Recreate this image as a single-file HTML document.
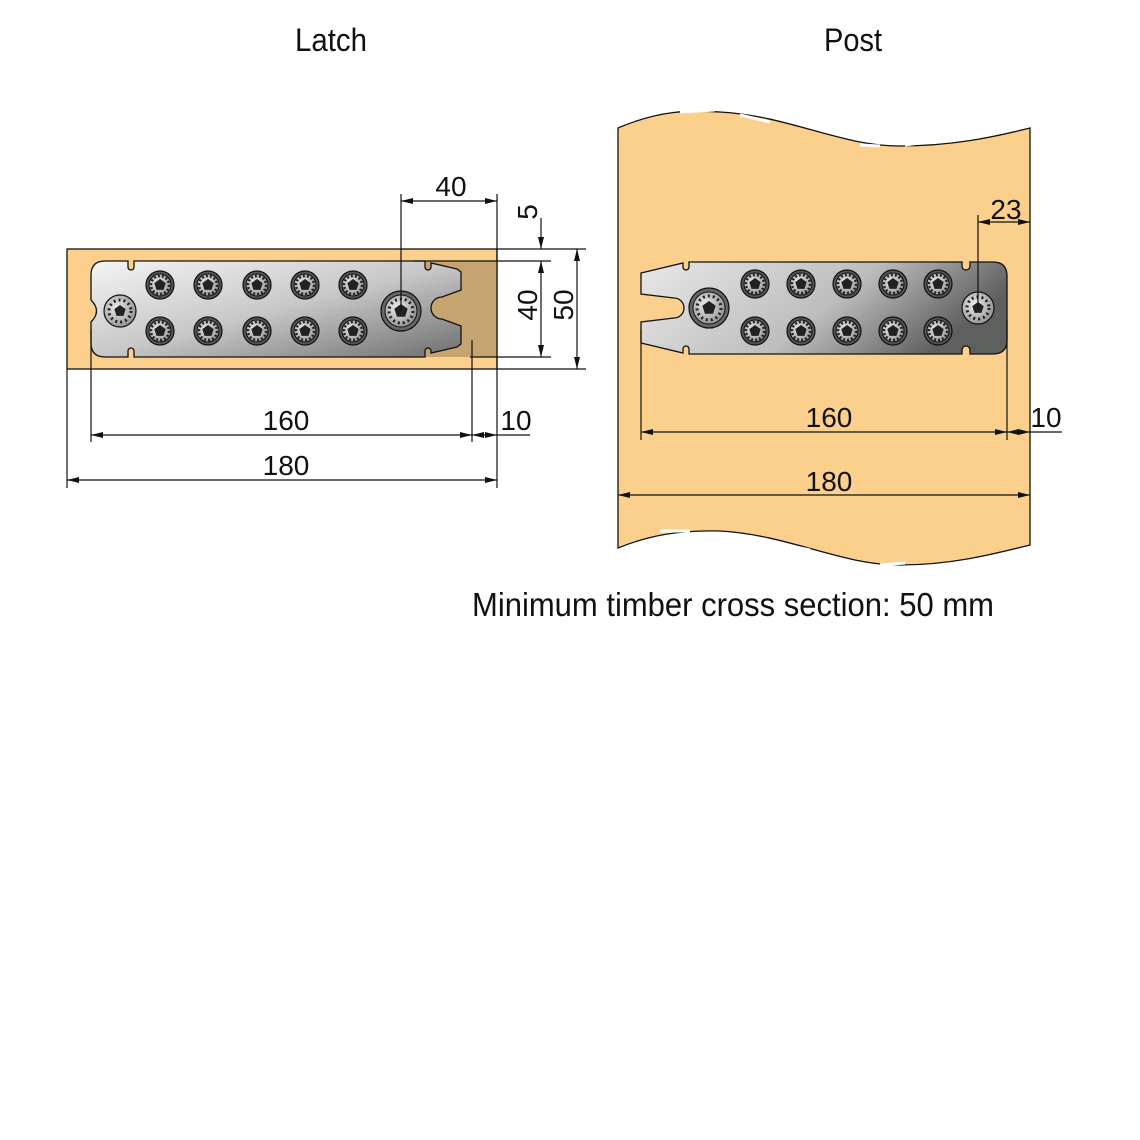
<!DOCTYPE html>
<html><head><meta charset="utf-8"><style>
body{margin:0;background:#fff}
svg{display:block}
text{font-family:"Liberation Sans Narrow","Liberation Sans",sans-serif;fill:#111}
</style></head><body>
<svg width="1140" height="1140" viewBox="0 0 1140 1140" xmlns="http://www.w3.org/2000/svg">
<defs>
<linearGradient id="pg" x1="0" y1="0" x2="1" y2="1">
<stop offset="0" stop-color="#f4f4f4"/><stop offset="0.5" stop-color="#c8c8c8"/><stop offset="1" stop-color="#6e6e6e"/></linearGradient>
<linearGradient id="pg2" x1="0" y1="0" x2="1" y2="0.3">
<stop offset="0" stop-color="#e8e8e8"/><stop offset="0.6" stop-color="#bdbdbd"/><stop offset="1" stop-color="#5e605e"/></linearGradient>
<radialGradient id="sg" cx="0.4" cy="0.4" r="0.7"><stop offset="0" stop-color="#eee"/><stop offset="1" stop-color="#888"/></radialGradient>
<g id="s">
<circle r="14" fill="#555" stroke="#111" stroke-width="1.2"/>
<circle r="11" fill="url(#sg)" stroke="#111" stroke-width="1"/>
<circle r="9" fill="none" stroke="#222" stroke-width="2.5" stroke-dasharray="2 2"/>
<polygon points="0,-6 5.7,-1.9 3.5,4.9 -3.5,4.9 -5.7,-1.9" fill="#222"/>
</g>
<g id="b">
<circle r="20" fill="#666" stroke="#111" stroke-width="1.2"/>
<circle r="16" fill="url(#sg)" stroke="#111" stroke-width="1"/>
<circle r="12" fill="none" stroke="#222" stroke-width="3" stroke-dasharray="2 3"/>
<polygon points="0,-7 6.7,-2.2 4.1,5.7 -4.1,5.7 -6.7,-2.2" fill="#222"/>
</g>
<g id="m">
<circle r="16" fill="url(#sg)" stroke="#111" stroke-width="1.2"/>
<circle r="11" fill="none" stroke="#222" stroke-width="3" stroke-dasharray="2 3"/>
<polygon points="0,-6 5.7,-1.9 3.5,4.9 -3.5,4.9 -5.7,-1.9" fill="#222"/>
</g>
<marker id="a" viewBox="0 0 12 6" refX="12" refY="3" markerWidth="12" markerHeight="6" orient="auto-start-reverse" markerUnits="userSpaceOnUse"><path d="M0,0 L12,3 L0,6z" fill="#111"/></marker>
</defs>

<text x="331" y="51" font-size="32" text-anchor="middle" textLength="72" lengthAdjust="spacingAndGlyphs">Latch</text>
<text x="853" y="51" font-size="32" text-anchor="middle" textLength="58" lengthAdjust="spacingAndGlyphs">Post</text>

<!-- Latch timber -->
<rect x="67" y="249" width="430" height="120" fill="#fbd08d" stroke="#111" stroke-width="1.3"/>
<rect x="413" y="261" width="84" height="96" fill="#c6a46f"/>
<path d="M105,261 H128 v6 a3,3 0 0 0 6,0 v-6 H425 v6 a3,3 0 0 0 6,0 v-4 L457,269 L461,272 V290 L442,297 A11,11 0 0 0 442,319 L461,326 V344 L457,347 L431,353 v-2 a3,3 0 0 0 -6,0 v6 H134 v-6 a3,3 0 0 0 -6,0 v6 H105 Q91,357 91,343 V322 Q102,311 91,300 V275 Q91,261 105,261 Z" fill="url(#pg)" stroke="#111" stroke-width="1.3"/>
<use href="#s" x="160" y="285"/><use href="#s" x="208" y="285"/><use href="#s" x="257" y="285"/><use href="#s" x="305" y="285"/><use href="#s" x="353" y="285"/>
<use href="#s" x="160" y="331"/><use href="#s" x="208" y="331"/><use href="#s" x="257" y="331"/><use href="#s" x="305" y="331"/><use href="#s" x="353" y="331"/>
<use href="#m" x="120" y="311"/><use href="#b" x="401" y="311"/>

<g stroke="#111" stroke-width="1.2" fill="none">
<line x1="401" y1="194" x2="401" y2="311"/>
<line x1="497" y1="194" x2="497" y2="488"/>
<line x1="401" y1="201" x2="497" y2="201" marker-start="url(#a)" marker-end="url(#a)"/>
<line x1="497" y1="249" x2="586" y2="249"/>
<line x1="413" y1="261" x2="551" y2="261"/>
<line x1="470" y1="357" x2="551" y2="357"/>
<line x1="497" y1="369" x2="586" y2="369"/>
<line x1="541" y1="218" x2="541" y2="249" marker-end="url(#a)"/>
<line x1="541" y1="261" x2="541" y2="357" marker-start="url(#a)" marker-end="url(#a)"/>
<line x1="577" y1="249" x2="577" y2="369" marker-start="url(#a)" marker-end="url(#a)"/>
<line x1="91" y1="330" x2="91" y2="442"/>
<line x1="472" y1="340" x2="472" y2="442"/>
<line x1="91" y1="435" x2="472" y2="435" marker-start="url(#a)" marker-end="url(#a)"/>
<line x1="472" y1="435" x2="497" y2="435" marker-start="url(#a)" marker-end="url(#a)"/>
<line x1="497" y1="435" x2="530" y2="435"/>
<line x1="67" y1="369" x2="67" y2="488"/>
<line x1="67" y1="480" x2="497" y2="480" marker-start="url(#a)" marker-end="url(#a)"/>
</g>
<text x="451" y="196" font-size="28" text-anchor="middle">40</text>
<text transform="translate(537,212) rotate(-90)" font-size="28" text-anchor="middle">5</text>
<text transform="translate(537,305) rotate(-90)" font-size="28" text-anchor="middle">40</text>
<text transform="translate(573,305) rotate(-90)" font-size="28" text-anchor="middle">50</text>
<text x="286" y="430" font-size="28" text-anchor="middle">160</text>
<text x="516" y="430" font-size="28" text-anchor="middle">10</text>
<text x="286" y="475" font-size="28" text-anchor="middle">180</text>

<!-- Post timber -->
<path d="M618,128 C660,110 690,110 720,112 C790,116 840,146 900,146 C950,146 990,138 1030,128 V545 C990,555 950,565 900,565 C840,565 790,535 720,531 C680,530 650,535 618,548 Z" fill="#fbd08d" stroke="#111" stroke-width="1.3"/>
<path d="M680,112 L715,110 M740,115 L770,122 M860,145 L880,146 M905,145 L940,140 M660,531 L690,531 M785,545 L810,550 M880,565 L905,563" stroke="#fff" stroke-width="3"/>
<path d="M641,273 L683,263 v4 a3,3 0 0 0 6,0 v-5 H962 v4 a4,4 0 0 0 8,0 v-4 H993 Q1007,262 1007,276 V340 Q1007,354 993,354 H970 v-4 a4,4 0 0 0 -8,0 v4 H689 v-5 a3,3 0 0 0 -6,0 v4 L641,343 V322 L674,318 A10,10 0 0 0 674,298 L641,294 Z" fill="url(#pg2)" stroke="#111" stroke-width="1.3"/>
<use href="#s" x="755" y="284"/><use href="#s" x="801" y="284"/><use href="#s" x="847" y="284"/><use href="#s" x="893" y="284"/><use href="#s" x="938" y="284"/>
<use href="#s" x="755" y="331"/><use href="#s" x="801" y="331"/><use href="#s" x="847" y="331"/><use href="#s" x="893" y="331"/><use href="#s" x="938" y="331"/>
<use href="#b" x="709" y="308"/><use href="#m" x="978" y="308"/>

<g stroke="#111" stroke-width="1.2" fill="none">
<line x1="978" y1="215" x2="978" y2="308"/>
<line x1="978" y1="222" x2="1030" y2="222" marker-start="url(#a)" marker-end="url(#a)"/>
<line x1="641" y1="330" x2="641" y2="440"/>
<line x1="1007" y1="320" x2="1007" y2="440"/>
<line x1="641" y1="432" x2="1007" y2="432" marker-start="url(#a)" marker-end="url(#a)"/>
<line x1="1007" y1="432" x2="1030" y2="432" marker-start="url(#a)" marker-end="url(#a)"/>
<line x1="1030" y1="432" x2="1062" y2="432"/>
<line x1="618" y1="495" x2="1030" y2="495" marker-start="url(#a)" marker-end="url(#a)"/>
</g>
<text x="1006" y="219" font-size="28" text-anchor="middle">23</text>
<text x="829" y="427" font-size="28" text-anchor="middle">160</text>
<text x="1046" y="427" font-size="28" text-anchor="middle">10</text>
<text x="829" y="491" font-size="28" text-anchor="middle">180</text>

<text x="733" y="616" font-size="33" text-anchor="middle" textLength="522" lengthAdjust="spacingAndGlyphs">Minimum timber cross section: 50 mm</text>
</svg>
</body></html>
